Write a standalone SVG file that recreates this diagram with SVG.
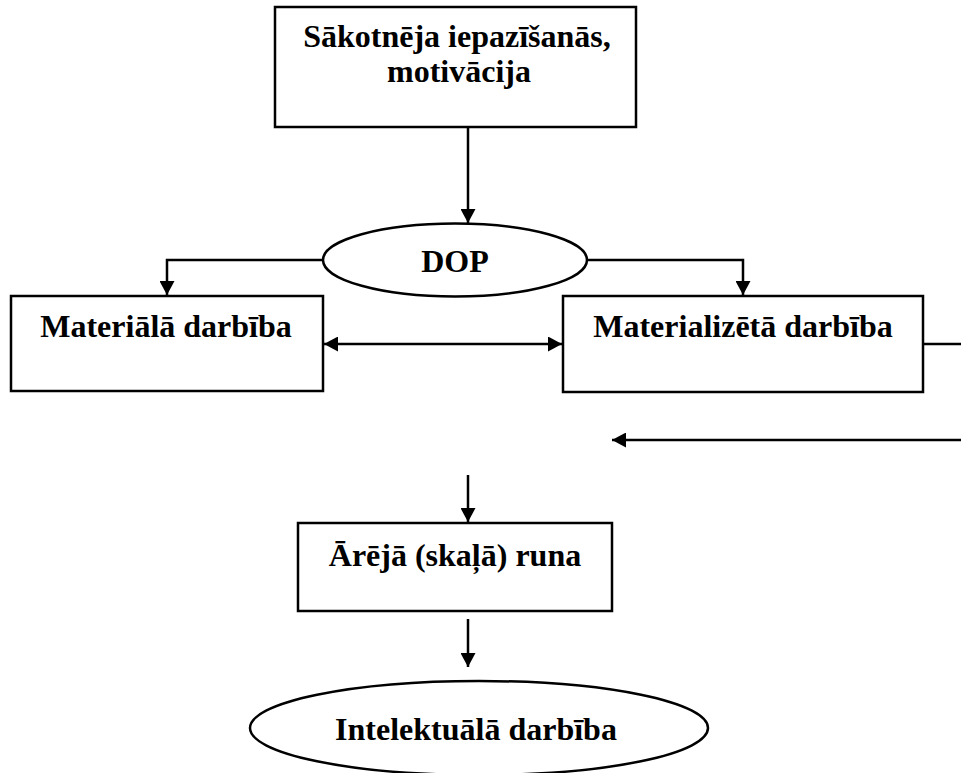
<svg xmlns="http://www.w3.org/2000/svg" width="961" height="773" viewBox="0 0 961 773">
<style>
.box{fill:#fff;stroke:#000;stroke-width:2.5}
.ln{fill:none;stroke:#000;stroke-width:2.5}
.t{font-family:"Liberation Serif","Times New Roman",serif;font-weight:bold;font-size:32px;fill:#000;text-anchor:middle}
</style>
<defs>
<marker id="ah" viewBox="0 0 14 15" refX="14" refY="7.5" markerWidth="14" markerHeight="15" markerUnits="userSpaceOnUse" orient="auto-start-reverse">
<path d="M0,0 L14,7.5 L0,15 Z" fill="#000"/>
</marker>
</defs>
<rect width="961" height="773" fill="#fff"/>
<g id="connectors">
<path class="ln" d="M468,127 V223" marker-end="url(#ah)"/>
<path class="ln" d="M323,260 H167 V295" marker-end="url(#ah)"/>
<path class="ln" d="M587,260 H743 V295" marker-end="url(#ah)"/>
<path class="ln" d="M324,344 H562" marker-start="url(#ah)" marker-end="url(#ah)"/>
<path class="ln" d="M923,344 H961"/>
<path class="ln" d="M961,440 H612" marker-end="url(#ah)"/>
<path class="ln" d="M468,475 V522" marker-end="url(#ah)"/>
<path class="ln" d="M468,619 V667" marker-end="url(#ah)"/>
</g>
<g id="n-start">
<rect class="box" x="275" y="7" width="361" height="120"/>
<text class="t" x="457" y="47">Sākotnēja iepazīšanās,</text>
<text class="t" x="459" y="82">motivācija</text>
</g>
<g id="n-dop">
<ellipse class="box" cx="455" cy="260" rx="132" ry="36.5"/>
<text class="t" x="455" y="272">DOP</text>
</g>
<g id="n-materiala">
<rect class="box" x="11" y="296" width="312" height="95"/>
<text class="t" x="166" y="337">Materiālā darbība</text>
</g>
<g id="n-materializeta">
<rect class="box" x="563" y="296" width="360" height="96"/>
<text class="t" x="743" y="337">Materializētā darbība</text>
</g>
<g id="n-runa">
<rect class="box" x="298" y="523" width="314" height="88"/>
<text class="t" x="455" y="566">Ārējā (skaļā) runa</text>
</g>
<g id="n-intelektuala">
<ellipse class="box" cx="479" cy="728" rx="229" ry="47"/>
<text class="t" x="476" y="740">Intelektuālā darbība</text>
</g>
</svg>
